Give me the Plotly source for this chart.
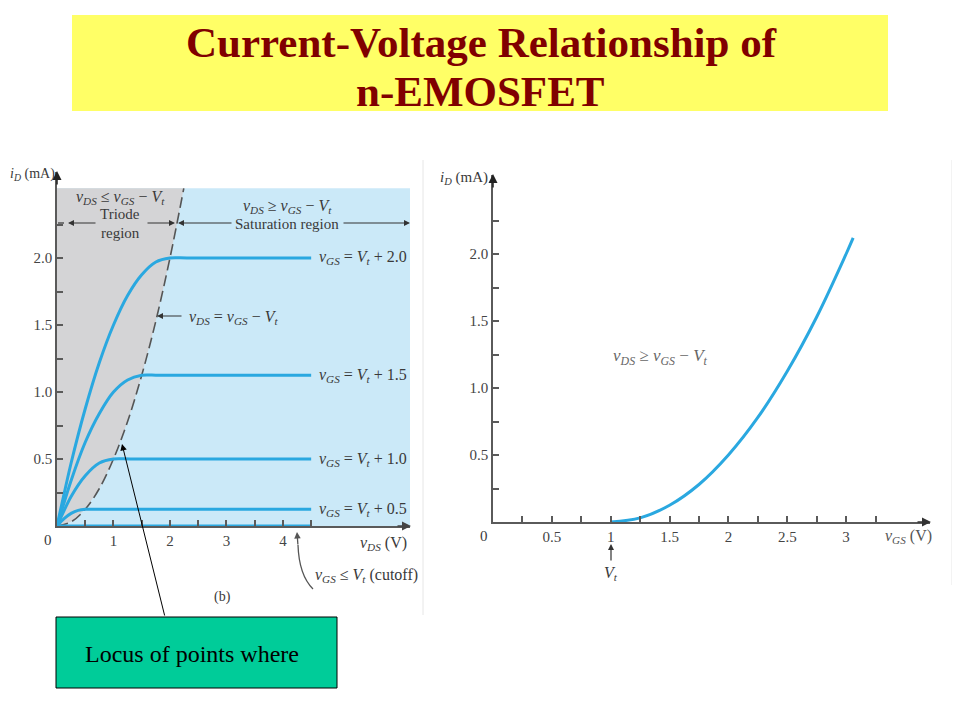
import plotly.graph_objects as go

# ---------------- data ----------------
# Left panel: i_D (mA) vs v_DS (V) for several overdrive values
vds_ov20 = [0, 0.25, 0.5, 0.75, 1.0, 1.25, 1.5, 1.75, 2.0, 2.3, 4.5]
id_ov20 = [0, 0.47, 0.875, 1.22, 1.5, 1.72, 1.875, 1.97, 2.0, 2.0, 2.0]
vds_ov15 = [0, 0.25, 0.5, 0.75, 1.0, 1.25, 1.5, 1.8, 4.5]
id_ov15 = [0, 0.34, 0.625, 0.84, 1.0, 1.09, 1.125, 1.125, 1.125]
vds_ov10 = [0, 0.25, 0.5, 0.75, 1.0, 1.3, 4.5]
id_ov10 = [0, 0.22, 0.375, 0.47, 0.5, 0.5, 0.5]
vds_ov05 = [0, 0.125, 0.25, 0.375, 0.5, 0.7, 4.5]
id_ov05 = [0, 0.055, 0.094, 0.117, 0.125, 0.125, 0.125]
vds_cutoff = [0, 4.5]
id_cutoff = [0, 0]
curve_levels = [2.0, 1.125, 0.5, 0.125]
curve_labels = ["+ 2.0", "+ 1.5", "+ 1.0", "+ 0.5"]

# Triode/saturation boundary  v_DS = v_GS - V_t
boundary_vds = [0, 0.25, 0.5, 0.75, 1.0, 1.25, 1.5, 1.75, 2.0, 2.245]
boundary_id = [0, 0.031, 0.125, 0.28, 0.5, 0.78, 1.125, 1.53, 2.0, 2.52]
region_top = 2.52
region_right = 6.25

left_xtick_vals = [0.5, 1, 1.5, 2, 2.5, 3, 3.5, 4, 4.5]
left_xtick_text = ["", "1", "", "2", "", "3", "", "4", ""]
left_ytick_vals = [0.25, 0.5, 0.75, 1.0, 1.25, 1.5, 1.75, 2.0, 2.25]
left_ytick_text = ["", "0.5", "", "1.0", "", "1.5", "", "2.0", ""]

# Right panel: transfer characteristic i_D vs v_GS
vgs_transfer = [1.0, 1.25, 1.5, 1.75, 2.0, 2.25, 2.5, 2.75, 3.0, 3.06]
id_transfer = [0, 0.031, 0.125, 0.28, 0.5, 0.78, 1.125, 1.53, 2.0, 2.12]
right_xtick_vals = [0.25, 0.5, 0.75, 1, 1.25, 1.5, 1.75, 2, 2.25, 2.5, 2.75, 3, 3.25]
right_xtick_text = ["", "0.5", "", "1", "", "1.5", "", "2", "", "2.5", "", "3", ""]
right_ytick_vals = [0.25, 0.5, 0.75, 1.0, 1.25, 1.5, 1.75, 2.0, 2.25]
right_ytick_text = ["", "0.5", "", "1.0", "", "1.5", "", "2.0", ""]

# ---------------- styling ----------------
W, H = 960, 720
OFF = 8  # page body margin
BLUE = "#2aa8e0"
TXT = "#3a3a3a"
AX = "#5a5a5a"
SERIF = "Liberation Serif, Times New Roman, serif"


def px(x):
    return (x - OFF) / W


def py(y):
    return 1 - (y - OFF) / H


fig = go.Figure()

# left panel traces
fig.add_trace(go.Scatter(
    x=boundary_vds + [0], y=boundary_id + [region_top],
    fill="toself", fillcolor="#d4d4d6", line=dict(width=0),
    mode="lines", hoverinfo="skip", xaxis="x", yaxis="y"))
fig.add_trace(go.Scatter(
    x=boundary_vds, y=boundary_id, mode="lines",
    line=dict(color="#555555", width=1.6, dash="11px,5px", shape="spline"),
    xaxis="x", yaxis="y"))
for xs, ys in [(vds_ov20, id_ov20), (vds_ov15, id_ov15), (vds_ov10, id_ov10),
               (vds_ov05, id_ov05), (vds_cutoff, id_cutoff)]:
    fig.add_trace(go.Scatter(
        x=xs, y=ys, mode="lines",
        line=dict(color=BLUE, width=3, shape="spline", smoothing=0.8),
        xaxis="x", yaxis="y"))

# right panel trace
fig.add_trace(go.Scatter(
    x=vgs_transfer, y=id_transfer, mode="lines",
    line=dict(color=BLUE, width=3, shape="spline"),
    xaxis="x2", yaxis="y2"))

shapes = [
    # title box
    dict(type="rect", xref="paper", yref="paper", x0=px(72), x1=px(888),
         y0=py(111), y1=py(15), fillcolor="#ffff66", line=dict(width=0), layer="below"),
    # saturation background
    dict(type="rect", xref="x", yref="y", x0=0, x1=region_right, y0=0, y1=region_top,
         fillcolor="#cbe9f8", line=dict(width=0), layer="below"),
    # faint panel borders
    dict(type="line", xref="paper", yref="paper", x0=px(423), x1=px(423),
         y0=py(160), y1=py(615), line=dict(color="#e6e6e6", width=1)),
    dict(type="line", xref="paper", yref="paper", x0=px(952), x1=px(952),
         y0=py(160), y1=py(585), line=dict(color="#e6e6e6", width=1)),
    # green call-out box
    dict(type="rect", xref="paper", yref="paper", x0=px(56), x1=px(337),
         y0=py(688), y1=py(617), fillcolor="#00cc99", line=dict(color="black", width=1)),
    # curved cutoff arrow shaft
    dict(type="path", xref="paper", yref="paper",
         path=f"M {px(313)} {py(589)} Q {px(299)} {py(575)} {px(298)} {py(545)}",
         line=dict(color="#555555", width=1.3)),
    # small dashed stub at left of triode arrow
    dict(type="line", xref="paper", yref="paper", x0=px(58), x1=px(64),
         y0=py(223), y1=py(223), line=dict(color="#333333", width=1.2)),
]


def txt(x, y, text, size=15, color=TXT, xanchor="center", **kw):
    return dict(x=px(x), y=py(y), xref="paper", yref="paper", text=text,
                showarrow=False, xanchor=xanchor, yanchor="middle",
                font=dict(family=SERIF, size=size, color=color), **kw)


def arrow(hx, hy, tx, ty, color="#333333", width=1.2, size=1.0, head=2):
    return dict(x=px(hx), y=py(hy), xref="paper", yref="paper", text="",
                showarrow=True, ax=tx - hx, ay=ty - hy, axref="pixel", ayref="pixel",
                arrowhead=head, arrowsize=size, arrowwidth=width, arrowcolor=color,
                standoff=0, startstandoff=0)


def v(sub):
    return f"<i>v</i><sub><i>{sub}</i></sub>"


VT = "<i>V</i><sub><i>t</i></sub>"

annotations = [
    # title
    txt(481, 42, "<b>Current-Voltage Relationship of</b>", size=43, color="#800000"),
    txt(480, 91, "<b>n-EMOSFET</b>", size=43, color="#800000"),
    # left panel text
    txt(32, 174, f"<i>i</i><sub><i>D</i></sub> (mA)", size=14),
    txt(120, 198, f"{v('DS')} ≤ {v('GS')} − {VT}", size=16),
    txt(120, 214, "Triode", size=15),
    txt(120, 233, "region", size=15),
    txt(287, 206, f"{v('DS')} ≥ {v('GS')} − {VT}", size=16),
    txt(287, 224, "Saturation region", size=15),
    txt(187, 317, f"{v('DS')} = {v('GS')} − {VT}", size=16, xanchor="left"),
    txt(48, 540, "0", size=15),
    txt(383, 543, f"{v('DS')} (V)", size=16),
    txt(313, 575, f"{v('GS')} ≤ {VT} (cutoff)", size=16, xanchor="left"),
    txt(222, 597, "(b)", size=14),
    # arrows in left panel
    arrow(68, 223, 97, 223),
    arrow(175, 223, 146, 223),
    arrow(178, 223, 233, 223),
    arrow(410, 223, 342, 223),
    arrow(157, 316, 183, 316),
    arrow(297, 532, 298, 546, color="#555555", width=1.3),
    # axis arrowheads
    arrow(57, 171, 57, 186, color="#222222", width=1.5, size=1.2),
    arrow(411, 526, 396, 526, color="#444444", width=1.5, size=1.2),
    arrow(493, 174, 493, 189, color="#222222", width=1.5, size=1.2),
    arrow(931, 522, 916, 522, color="#333333", width=1.5, size=1.2),
    # right panel text
    txt(464, 178, f"<i>i</i><sub><i>D</i></sub> (mA)", size=15),
    txt(484, 536, "0", size=15),
    txt(908, 536, f"{v('GS')} (V)", size=16, color="#555555"),
    txt(660, 357, f"{v('DS')} ≥ {v('GS')} − {VT}", size=17, color="#666666"),
    txt(611, 573, VT, size=16),
    arrow(611, 544, 611, 562, color="#333333", width=1.2),
    # green box text and arrow
    txt(192, 654, "Locus of points where", size=24, color="black"),
    arrow(122, 444, 165, 617, color="black", width=1.0, size=1.3),
]

# curve labels attached to data levels
for lvl, lab in zip(curve_levels, curve_labels):
    annotations.append(dict(
        x=4.6, y=lvl, xref="x", yref="y", xanchor="left", yanchor="middle",
        showarrow=False, text=f"{v('GS')} = {VT} {lab}",
        font=dict(family=SERIF, size=16, color=TXT)))

axis_common = dict(showgrid=False, zeroline=False, showline=True, linecolor=AX,
                   linewidth=1.5, ticks="inside", ticklen=6, tickcolor=AX, tickwidth=1.5,
                   tickfont=dict(family=SERIF, size=15, color="#444444"), fixedrange=True)

fig.update_layout(
    width=W, height=H, margin=dict(l=0, r=0, t=0, b=0),
    paper_bgcolor="white", plot_bgcolor="white", showlegend=False,
    shapes=shapes, annotations=annotations,
    xaxis=dict(domain=[px(57), px(410)], range=[0, region_right], anchor="y",
               tickmode="array", tickvals=left_xtick_vals, ticktext=left_xtick_text,
               **axis_common),
    yaxis=dict(domain=[py(526), py(172)], range=[0, (526 - 172) / 134], anchor="x",
               tickmode="array", tickvals=left_ytick_vals, ticktext=left_ytick_text,
               **axis_common),
    xaxis2=dict(domain=[px(493), px(930)], range=[0, (930 - 493) / 117.7], anchor="y2",
                tickmode="array", tickvals=right_xtick_vals, ticktext=right_xtick_text,
                **axis_common),
    yaxis2=dict(domain=[py(522), py(175)], range=[0, (522 - 175) / 134], anchor="x2",
                tickmode="array", tickvals=right_ytick_vals, ticktext=right_ytick_text,
                **axis_common),
)

fig.write_html("out.html")
